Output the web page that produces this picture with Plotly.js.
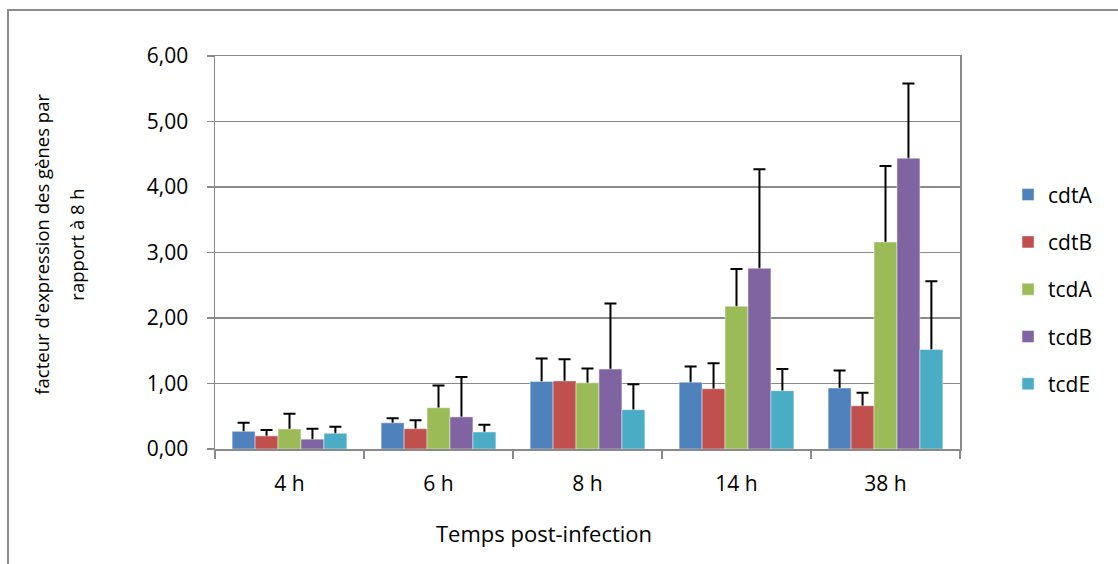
<!DOCTYPE html>
<html>
<head>
<meta charset="utf-8">
<script src="https://cdn.plot.ly/plotly-3.0.1.min.js"></script>
<style>
  html, body { margin: 0; padding: 0; background: #fff; }
  #wrap { position: relative; width: 1118px; height: 564px; overflow: hidden; }
  #chart { position: absolute; left: 0; top: 0; width: 1118px; height: 564px; }
  #frame { position: absolute; left: 7px; top: 9px; width: 1200px; height: 700px;
           border: 2px solid #8c8c8c; pointer-events: none; }
</style>
</head>
<body>
<div id="wrap">
  <div id="chart"></div>
  <div id="frame"></div>
</div>
<script>
const categories = ['4 h', '6 h', '8 h', '14 h', '38 h'];
const seriesNames = ['cdtA', 'cdtB', 'tcdA', 'tcdB', 'tcdE'];
const seriesColors = ['#4F81BD', '#C0504D', '#9BBB59', '#8064A2', '#4BACC6'];

const cdtA = [0.27, 0.40, 1.03, 1.02, 0.93];
const cdtB = [0.20, 0.31, 1.04, 0.92, 0.66];
const tcdA = [0.305, 0.63, 1.01, 2.18, 3.16];
const tcdB = [0.15, 0.49, 1.22, 2.76, 4.44];
const tcdE = [0.24, 0.26, 0.60, 0.89, 1.52];

const cdtA_err = [0.13, 0.07, 0.35, 0.24, 0.27];
const cdtB_err = [0.09, 0.13, 0.33, 0.39, 0.20];
const tcdA_err = [0.235, 0.34, 0.22, 0.57, 1.16];
const tcdB_err = [0.16, 0.61, 1.00, 1.51, 1.14];
const tcdE_err = [0.10, 0.11, 0.39, 0.33, 1.04];

const yTickValues = [0, 1, 2, 3, 4, 5, 6];

const values = [cdtA, cdtB, tcdA, tcdB, tcdE];
const errors = [cdtA_err, cdtB_err, tcdA_err, tcdB_err, tcdE_err];

const FONT = '"Open Sans", "Liberation Sans", Arial, sans-serif';

const traces = [];
// error-bar carriers first (drawn underneath the visible bars)
seriesNames.forEach((name, i) => {
  traces.push({
    type: 'bar', x: categories, y: values[i], offsetgroup: name,
    marker: { color: 'rgba(0,0,0,0)', line: { width: 0 } },
    error_y: { type: 'data', symmetric: false, array: errors[i],
               arrayminus: values[i].map(v => v * 0.5),
               color: '#000', thickness: 2, width: 6 },
    showlegend: false, hoverinfo: 'skip'
  });
});
seriesNames.forEach((name, i) => {
  traces.push({
    type: 'bar', name: name, x: categories, y: values[i], offsetgroup: name,
    legendgroup: name,
    marker: { color: seriesColors[i], line: { width: 0.8, color: 'rgba(255,255,255,0.55)' } }
  });
});

const layout = {
  width: 1118, height: 564,
  margin: { l: 215, r: 158, t: 56, b: 115, pad: 0 },
  paper_bgcolor: '#fff', plot_bgcolor: '#fff',
  separators: ', ',
  barmode: 'group', bargap: 0.23, bargroupgap: 0,
  font: { family: FONT, size: 21, color: '#000' },
  xaxis: {
    type: 'category', tickson: 'boundaries', ticks: 'outside', ticklen: 8,
    tickcolor: '#8a8a8a', tickwidth: 1.5,
    showline: true, linecolor: '#8a8a8a', linewidth: 1.5, mirror: true,
    showgrid: false, ticklabelstandoff: 15,
    tickfont: { family: FONT, size: 21, color: '#000' }
  },
  yaxis: {
    range: [0, 6], tickvals: yTickValues, tickformat: '.2f',
    ticks: 'outside', ticklen: 7, tickcolor: '#8a8a8a', tickwidth: 1.5,
    showline: true, linecolor: '#8a8a8a', linewidth: 1.5, mirror: true,
    showgrid: true, gridcolor: '#8a8a8a', gridwidth: 1.5, zeroline: false,
    ticklabelstandoff: 14,
    tickfont: { family: FONT, size: 21, color: '#000' }
  },
  legend: {
    x: 1.0645, xanchor: 'left', y: 0.406, yanchor: 'middle',
    font: { family: FONT, size: 21, color: '#000' },
    tracegroupgap: 17, bgcolor: 'rgba(0,0,0,0)', borderwidth: 0
  },
  annotations: [
    { text: "facteur d'expression des gènes par", xref: 'paper', yref: 'paper',
      x: -0.2322, y: 0.52, textangle: -90, showarrow: false,
      xanchor: 'center', yanchor: 'middle',
      font: { family: FONT, size: 18.5, color: '#000' } },
    { text: 'rapport à 8 h', xref: 'paper', yref: 'paper',
      x: -0.1852, y: 0.52, textangle: -90, showarrow: false,
      xanchor: 'center', yanchor: 'middle',
      font: { family: FONT, size: 18.5, color: '#000' } },
    { text: 'Temps post-infection', xref: 'paper', yref: 'paper',
      x: (544 - 215) / 745, y: -0.2137, showarrow: false,
      xanchor: 'center', yanchor: 'middle',
      font: { family: FONT, size: 22, color: '#000' } }
  ]
};

Plotly.newPlot('chart', traces, layout, { displayModeBar: false, staticPlot: true });
</script>
</body>
</html>
